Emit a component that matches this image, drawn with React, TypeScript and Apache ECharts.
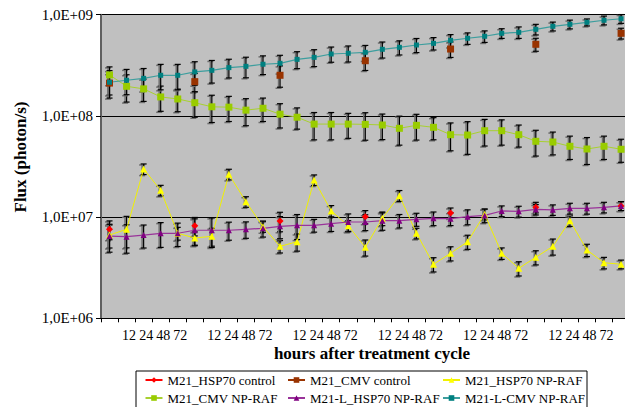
import React, { useEffect, useRef } from "react";
import * as echarts from "echarts";

// x categories: pre-treatment point (blank label) followed by 12, 24, 48, 72 h, repeated per cycle
const categories = [
  "", "12", "24", "48", "72",
  "", "12", "24", "48", "72",
  "", "12", "24", "48", "72",
  "", "12", "24", "48", "72",
  "", "12", "24", "48", "72",
  "", "12", "24", "48", "72",
  "",
];

const controlIndex = [0, 5, 10, 15, 20, 25, 30];

const hsp70Control = [7.57e6, 8.22e6, 9.16e6, 1.01e7, 1.1e7, 1.25e7, 1.29e7];
const hsp70ControlSd = [1.6e6, 1.7e6, 2.0e6, 1.5e6, 1.3e6, 1.5e6, 1.3e6];

const cmvControl = [2.11e8, 2.18e8, 2.52e8, 3.51e8, 4.58e8, 5.1e8, 6.55e8];
const cmvControlSd = [5.0e7, 4.5e7, 6.0e7, 7.0e7, 8.0e7, 7.5e7, 8.0e7];

const hsp70NpRaf = [
  6.65e6, 7.57e6, 2.99e7, 1.84e7, 6.92e6, 6.21e6, 6.46e6, 2.65e7, 1.42e7, 8.04e6,
  5.14e6, 5.71e6, 2.33e7, 1.15e7, 8.22e6, 5.03e6, 9.73e6, 1.63e7, 6.92e6, 3.42e6,
  4.39e6, 5.71e6, 1.07e7, 4.39e6, 3.12e6, 4.01e6, 5.14e6, 9.2e6, 4.73e6, 3.54e6,
  3.42e6,
];
const hsp70NpRafSd = [
  1.7e6, 2.6e6, 3.6e6, 2.2e6, 1.0e6, 9.3e5, 1.3e6, 3.2e6, 1.7e6, 9.6e5,
  7.2e5, 1.1e6, 2.8e6, 1.5e6, 9.9e5, 9.1e5, 1.5e6, 2.0e6, 8.3e5, 5.5e5,
  7.0e5, 9.1e5, 1.3e6, 5.7e5, 5.0e5, 6.4e5, 9.3e5, 1.1e6, 6.6e5, 4.6e5,
  3.4e5,
];

const cmvNpRaf = [
  2.54e8, 1.96e8, 1.85e8, 1.54e8, 1.47e8, 1.35e8, 1.23e8, 1.22e8, 1.14e8, 1.19e8,
  1.04e8, 9.7e7, 8.3e7, 8.3e7, 8.3e7, 8.25e7, 8.13e7, 7.54e7, 8.07e7, 7.71e7,
  6.52e7, 6.47e7, 7.14e7, 7.14e7, 6.52e7, 5.61e7, 5.52e7, 5.01e7, 4.71e7, 5.01e7,
  4.68e7,
];
const cmvNpRafSd = [
  5.1e7, 5.9e7, 4.6e7, 4.3e7, 3.7e7, 3.8e7, 3.7e7, 3.4e7, 3.4e7, 3.1e7,
  2.8e7, 2.3e7, 2.5e7, 2.5e7, 2.3e7, 2.5e7, 2.3e7, 2.4e7, 2.3e7, 1.9e7,
  2.0e7, 2.3e7, 2.1e7, 2.0e7, 1.6e7, 1.6e7, 1.4e7, 1.3e7, 1.4e7, 1.3e7,
  1.2e7,
];

const lHsp70NpRaf = [
  6.5e6, 6.4e6, 6.65e6, 6.92e6, 6.92e6, 7.41e6, 7.41e6, 7.41e6, 7.57e6, 7.75e6,
  8.11e6, 8.3e6, 8.3e6, 8.61e6, 8.95e6, 8.95e6, 9.21e6, 9.21e6, 9.51e6, 9.73e6,
  9.64e6, 1.01e7, 1.04e7, 1.15e7, 1.14e7, 1.19e7, 1.18e7, 1.22e7, 1.22e7, 1.25e7,
  1.29e7,
];
const lHsp70NpRafSd = [
  2.0e6, 2.0e6, 1.7e6, 1.9e6, 1.8e6, 2.2e6, 2.4e6, 1.5e6, 1.4e6, 1.4e6,
  2.0e6, 2.3e6, 1.2e6, 1.4e6, 1.8e6, 1.6e6, 1.8e6, 1.4e6, 1.4e6, 1.5e6,
  1.4e6, 1.7e6, 1.6e6, 1.4e6, 1.4e6, 1.4e6, 1.4e6, 1.5e6, 1.5e6, 1.5e6,
  1.3e6,
];

const lCmvNpRaf = [
  2.15e8, 2.25e8, 2.35e8, 2.52e8, 2.52e8, 2.72e8, 2.82e8, 3.0e8, 3.09e8, 3.24e8,
  3.31e8, 3.62e8, 3.79e8, 4.09e8, 4.16e8, 4.25e8, 4.55e8, 4.76e8, 5.02e8, 5.21e8,
  5.58e8, 5.85e8, 6.12e8, 6.55e8, 6.7e8, 7.17e8, 7.68e8, 8.04e8, 8.41e8, 8.81e8,
  9.12e8,
];
const lCmvNpRafSd = [
  6.5e7, 6.3e7, 5.9e7, 7.1e7, 7.1e7, 7.1e7, 7.1e7, 6.3e7, 7.1e7, 6.8e7,
  6.6e7, 6.9e7, 7.2e7, 7.0e7, 7.5e7, 7.2e7, 8.2e7, 7.6e7, 8.0e7, 7.3e7,
  7.8e7, 7.6e7, 8.0e7, 7.2e7, 8.7e7, 8.6e7, 7.7e7, 8.0e7, 6.7e7, 8.8e7,
  9.1e7,
];

const FONT = "Liberation Serif";

function expand(idx: number[], vals: number[]): (number | null)[] {
  const a: (number | null)[] = categories.map(() => null);
  idx.forEach((c, i) => {
    a[c] = vals[i];
  });
  return a;
}

function errorSeries(name: string, vals: (number | null)[], sds: (number | null)[]) {
  const data: number[][] = [];
  vals.forEach((v, i) => {
    const s = sds[i];
    if (v != null && s != null) data.push([i, v - s, v + s]);
  });
  return {
    type: "custom",
    name: name + " error",
    data,
    z: 2,
    silent: true,
    encode: { x: 0, y: [1, 2] },
    renderItem: (_params: any, api: any) => {
      const x = api.value(0);
      const top = api.coord([x, api.value(2)]);
      const bot = api.coord([x, api.value(1)]);
      const cx = top[0];
      const w = 3;
      const mk = (dx: number, dy: number, color: string, lw: number) => [
        { type: "line", shape: { x1: cx + dx, y1: top[1] + dy, x2: cx + dx, y2: bot[1] + dy }, style: { stroke: color, lineWidth: lw } },
        { type: "line", shape: { x1: cx - w + dx, y1: top[1] + dy, x2: cx + w + dx, y2: top[1] + dy }, style: { stroke: color, lineWidth: lw } },
        { type: "line", shape: { x1: cx - w + dx, y1: bot[1] + dy, x2: cx + w + dx, y2: bot[1] + dy }, style: { stroke: color, lineWidth: lw } },
      ];
      return {
        type: "group",
        children: [...mk(-1.5, 1, "#6e6e6e", 1.5), ...mk(0, 0, "#000000", 1.2)],
      };
    },
  };
}

function lineSeries(
  name: string,
  data: (number | null)[],
  symbol: string,
  size: number,
  color: string,
  lineColor: string,
  lineWidth: number
) {
  return {
    type: "line",
    name,
    data,
    symbol,
    symbolSize: size,
    showSymbol: true,
    showAllSymbol: true,
    connectNulls: false,
    itemStyle: { color },
    lineStyle: { color: lineColor, width: lineWidth },
    z: 3,
  };
}

export default function App() {
  const ref = useRef<HTMLDivElement>(null);

  useEffect(() => {
    if (!ref.current) return;
    const chart = echarts.init(ref.current, undefined, { renderer: "svg" });

    const redFull = expand(controlIndex, hsp70Control);
    const redSd = expand(controlIndex, hsp70ControlSd);
    const brownFull = expand(controlIndex, cmvControl);
    const brownSd = expand(controlIndex, cmvControlSd);

    const legendCommon = {
      orient: "vertical",
      top: 373,
      padding: 0,
      itemWidth: 17,
      itemHeight: 7,
      itemGap: 4,
      selectedMode: false,
      textStyle: { fontFamily: FONT, fontSize: 13, color: "#000", lineHeight: 14 },
    };

    chart.setOption({
      animation: false,
      backgroundColor: "#ffffff",
      textStyle: { fontFamily: FONT },
      grid: {
        left: 101,
        top: 14.7,
        width: 528.6,
        height: 303.6,
        show: true,
        backgroundColor: "#C0C0C0",
        borderWidth: 0,
      },
      xAxis: {
        type: "category",
        data: categories,
        boundaryGap: true,
        axisLine: { show: true, onZero: false, lineStyle: { color: "#000", width: 1 } },
        axisTick: { show: true, interval: 0, length: 4, lineStyle: { color: "#000" } },
        axisLabel: { interval: 0, fontFamily: FONT, fontSize: 14, color: "#000", margin: 10, padding: [0, 0, 0, 5] },
        splitLine: { show: false },
      },
      yAxis: {
        type: "log",
        logBase: 10,
        min: 1e6,
        max: 1e9,
        axisLine: { show: true, lineStyle: { color: "#5f5f5f", width: 2 } },
        axisTick: { show: true, length: 5, lineStyle: { color: "#000" } },
        axisLabel: {
          fontFamily: FONT,
          fontSize: 15,
          color: "#000",
          margin: 8,
          formatter: (v: number) => {
            const e = Math.round(Math.log10(v));
            return "1,0E+" + String(e).padStart(2, "0");
          },
        },
        splitLine: { show: true, lineStyle: { color: "#000", width: 1 } },
        minorTick: { show: false },
      },
      legend: [
        { ...legendCommon, left: 144.5, data: ["M21_HSP70 control", "M21_CMV NP-RAF"] },
        { ...legendCommon, left: 287, data: ["M21_CMV control", "M21-L_HSP70 NP-RAF"] },
        { ...legendCommon, left: 442, data: ["M21_HSP70 NP-RAF", "M21-L-CMV NP-RAF"] },
      ],
      graphic: [
        {
          type: "rect",
          shape: { x: 136, y: 371, width: 451, height: 50 },
          style: { fill: "none", stroke: "#000", lineWidth: 1 },
          silent: true,
        },
        {
          type: "text",
          x: 20,
          y: 157,
          rotation: Math.PI / 2,
          style: {
            text: "Flux (photon/s)",
            fontFamily: FONT,
            fontWeight: "bold",
            fontSize: 17,
            fill: "#000",
            align: "center",
            verticalAlign: "middle",
          },
        },
        {
          type: "text",
          x: 372,
          y: 353,
          style: {
            text: "hours after treatment cycle",
            fontFamily: FONT,
            fontWeight: "bold",
            fontSize: 17,
            fill: "#000",
            align: "center",
            verticalAlign: "middle",
          },
        },
      ],
      series: [
        errorSeries("M21_HSP70 control", redFull, redSd),
        lineSeries("M21_HSP70 control", redFull, "diamond", 7, "#FF0000", "#FF0000", 1.5),
        errorSeries("M21_CMV control", brownFull, brownSd),
        lineSeries("M21_CMV control", brownFull, "rect", 7, "#993300", "#993300", 1.5),
        errorSeries("M21_HSP70 NP-RAF", hsp70NpRaf, hsp70NpRafSd),
        lineSeries("M21_HSP70 NP-RAF", hsp70NpRaf, "triangle", 7, "#FFFF00", "#F0F000", 1),
        errorSeries("M21_CMV NP-RAF", cmvNpRaf, cmvNpRafSd),
        lineSeries("M21_CMV NP-RAF", cmvNpRaf, "rect", 7, "#99CC00", "#A8D030", 1),
        errorSeries("M21-L_HSP70 NP-RAF", lHsp70NpRaf, lHsp70NpRafSd),
        lineSeries("M21-L_HSP70 NP-RAF", lHsp70NpRaf, "triangle", 6, "#800080", "#993399", 1.2),
        errorSeries("M21-L-CMV NP-RAF", lCmvNpRaf, lCmvNpRafSd),
        lineSeries("M21-L-CMV NP-RAF", lCmvNpRaf, "rect", 5, "#008080", "#3D9E9E", 1.2),
      ],
    });

    return () => {
      chart.dispose();
    };
  }, []);

  return (
    <div style={{ position: "absolute", left: 0, top: 0, width: 625, height: 407, overflow: "hidden", background: "#fff" }}>
      <div ref={ref} style={{ width: 660, height: 407 }} />
    </div>
  );
}
